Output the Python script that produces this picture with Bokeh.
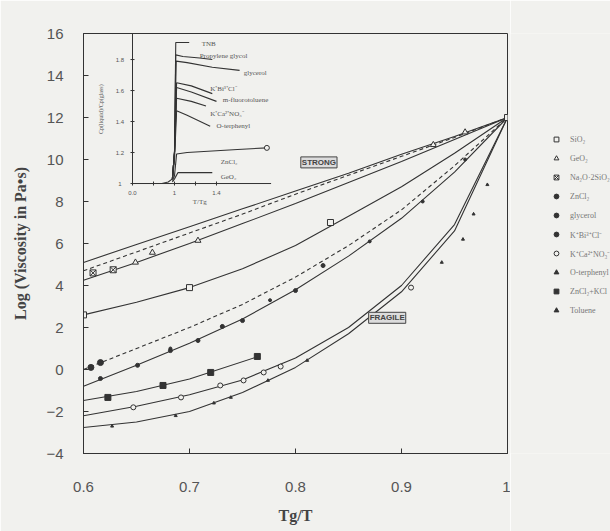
from bokeh.plotting import figure
from bokeh.models import Range1d, Label, Legend, LegendItem, FixedTicker
from bokeh.layouts import row
from bokeh.embed import file_html
from bokeh.resources import INLINE
from bokeh.core.properties import value
import math

# ---------------- main data ----------------
grid_x = [0.6, 0.65, 0.7, 0.75, 0.8, 0.85, 0.9, 0.95, 1.0]

line1_y = [5.1, 5.95, 6.8, 7.65, 8.5, 9.35, 10.25, 11.1, 12.0]      # strongest (solid)
line2_y = [4.7, 5.6, 6.5, 7.4, 8.35, 9.25, 10.15, 11.05, 12.0]      # dashed
line3_y = [4.25, 5.1, 6.0, 6.95, 7.9, 8.9, 9.9, 10.95, 12.0]        # solid
sio2_y = [2.6, 3.2, 3.9, 4.8, 5.9, 7.3, 8.7, 10.3, 12.0]            # solid
zncl2_y = [0.0, 1.0, 2.0, 3.1, 4.4, 5.9, 7.6, 9.7, 12.0]            # dashed
glyc_y = [-0.8, 0.2, 1.25, 2.4, 3.8, 5.4, 7.2, 9.4, 12.0]           # solid
kca_y = [-2.2, -1.75, -1.2, -0.5, 0.55, 2.0, 4.0, 6.9, 12.0]        # solid
ot_y = [-2.76, -2.5, -2.0, -1.1, 0.1, 1.7, 3.7, 6.6, 12.0]          # solid
zk_x = [0.6, 0.65, 0.7, 0.765]
zk_y = [-1.48, -1.05, -0.45, 0.62]

# markers
sq_x = [0.6, 0.7, 0.833, 1.0]
sq_y = [2.6, 3.9, 7.0, 12.0]
tri_x = [0.649, 0.665, 0.708, 0.93, 0.96]
tri_y = [5.1, 5.57, 6.14, 10.7, 11.3]
na_x = [0.609, 0.628]
na_y = [4.6, 4.75]
znd_x = [0.607, 0.616]
znd_y = [0.1, 0.33]
gly_x = [0.616, 0.651, 0.682, 0.708, 0.731, 0.75, 0.8, 0.826]
gly_y = [-0.43, 0.2, 0.9, 1.38, 2.05, 2.33, 3.76, 4.95]
kb_x = [0.682, 0.731, 0.776, 0.87, 0.92, 0.96]
kb_y = [1.0, 2.05, 3.3, 6.1, 8.0, 10.0]
oc_x = [0.647, 0.692, 0.729, 0.751, 0.77, 0.786, 0.909]
oc_y = [-1.8, -1.33, -0.76, -0.52, -0.14, 0.14, 3.9]
ot_mx = [0.627, 0.687, 0.723, 0.739, 0.774, 0.811, 0.938, 0.958, 0.968, 0.981]
ot_my = [-2.7, -2.2, -1.6, -1.33, -0.52, 0.43, 5.1, 6.2, 7.4, 8.8]
zks_x = [0.623, 0.675, 0.72, 0.764]
zks_y = [-1.33, -0.76, -0.14, 0.62]

legend_labels = ["SiO\u2082", "GeO\u2082", "Na\u2082O\u00b72SiO\u2082", "ZnCl\u2082", "glycerol",
                 "K\u207aBi\u00b3\u207aCl\u207b", "K\u207aCa\u00b2\u207aNO\u2083\u207b", "O-terphenyl",
                 "ZnCl\u2082+KCl", "Toluene"]

x_ticks = [0.6, 0.7, 0.8, 0.9, 1.0]
y_ticks = [-4, -2, 0, 2, 4, 6, 8, 10, 12, 14, 16]

# ---------------- inset data ----------------
ins_glass_x = [0.0, 0.7, 0.85, 0.95]
ins_glass_y = [1.0, 1.0, 1.01, 1.03]
ins_tnb_x = [0.95, 1.0, 1.03, 1.35]
ins_tnb_y = [1.03, 1.2, 1.91, 1.91]
ins_pg_x = [0.95, 1.0, 1.03, 1.2, 1.6, 1.9]
ins_pg_y = [1.03, 1.2, 1.83, 1.82, 1.81, 1.80]
ins_gly_x = [0.95, 1.0, 1.04, 1.3, 1.9, 2.55]
ins_gly_y = [1.03, 1.2, 1.79, 1.78, 1.75, 1.73]
ins_kb_x = [0.95, 1.0, 1.05, 1.4, 1.9]
ins_kb_y = [1.03, 1.2, 1.65, 1.63, 1.58]
ins_mf_x = [0.95, 1.0, 1.05, 1.4, 2.0]
ins_mf_y = [1.03, 1.2, 1.62, 1.59, 1.53]
ins_kc_x = [0.95, 1.0, 1.05, 1.4, 1.75]
ins_kc_y = [1.03, 1.2, 1.55, 1.53, 1.50]
ins_ot_x = [0.95, 1.0, 1.05, 1.3, 1.85]
ins_ot_y = [1.03, 1.15, 1.47, 1.44, 1.37]
ins_zn_x = [0.95, 1.0, 1.05, 1.3, 2.5, 3.2]
ins_zn_y = [1.02, 1.05, 1.19, 1.2, 1.22, 1.23]
ins_ge_x = [0.95, 1.0, 1.08, 1.4, 1.9]
ins_ge_y = [1.01, 1.03, 1.07, 1.07, 1.07]
ins_labels = ["TNB", "Propylene glycol", "glycerol", "K\u207aBi\u00b3\u207aCl\u207b", "m-fluorotoluene",
              "K\u207aCa\u00b2\u207aNO\u2083\u207b", "O-terphenyl", "ZnCl\u2082", "GeO\u2082"]
ins_lab_x = [1.65, 1.6, 2.65, 1.85, 2.15, 1.85, 2.0, 2.1, 2.1]
ins_lab_y = [1.9, 1.82, 1.71, 1.61, 1.54, 1.45, 1.37, 1.14, 1.04]
ins_xticks = [0.0, 0.5, 1.0, 1.5, 2.0]
ins_xtick_labels = ["0.0", "", "1", "", "1.4"]
ins_yticks = [1.0, 1.2, 1.4, 1.6, 1.8]
ins_ytick_labels = ["1", "1.2", "1.4", "1.6", "1.8"]
ins_xlim = [0.0, 3.3]
ins_ylim = [1.0, 1.97]

# ---------------- figure ----------------
BG = "#f1f1ee"
INK = "#333333"

p = figure(width=510, height=531, x_range=Range1d(0.6, 1.0), y_range=Range1d(-4, 16),
           output_backend="svg", toolbar_location=None,
           min_border_left=83, min_border_right=3, min_border_top=33, min_border_bottom=78)
p.background_fill_color = BG
p.border_fill_color = BG
p.outline_line_color = INK
p.grid.visible = False

p.xaxis.ticker = FixedTicker(ticks=x_ticks)
p.xaxis.major_label_overrides = {1.0: "1"}
p.yaxis.ticker = FixedTicker(ticks=y_ticks)
for ax in (p.xaxis[0], p.yaxis[0]):
    ax.major_tick_in = 5
    ax.major_tick_out = 0
    ax.minor_tick_line_color = None
    ax.axis_line_color = INK
    ax.major_tick_line_color = INK
    ax.major_label_text_font = "Liberation Sans"
    ax.major_label_text_font_size = "15px"
    ax.major_label_text_color = "#555555"
    ax.axis_label_text_font = "Liberation Serif"
    ax.axis_label_text_font_size = "16px"
    ax.axis_label_text_font_style = "bold"
    ax.axis_label_text_color = "#444444"
p.xaxis.axis_label = "Tg/T"
p.yaxis.axis_label = "Log (Viscosity in Pa\u2022s)"
p.xaxis.major_label_standoff = 28
p.xaxis.axis_label_standoff = 12
p.yaxis.major_label_standoff = 20
p.yaxis.axis_label_standoff = 14

def ln(xs, ys, dash="solid"):
    p.line(xs, ys, line_color=INK, line_width=1.1, line_dash=dash)

ln(grid_x, line1_y)
ln(grid_x, line2_y, "4 3")
ln(grid_x, line3_y)
ln(grid_x, sio2_y)
ln(grid_x, zncl2_y, "4 3")
ln(grid_x, glyc_y)
ln(grid_x, kca_y)
ln(grid_x, ot_y)
ln(zk_x, zk_y)

styles = [
    dict(marker="square", size=6, line_color=INK, fill_color=BG),
    dict(marker="triangle", size=6, line_color=INK, fill_color=BG),
    dict(marker="square_x", size=6, line_color=INK, fill_color=BG),
    dict(marker="circle", size=6, line_color=INK, fill_color=INK),
    dict(marker="circle", size=4, line_color=INK, fill_color=INK),
    dict(marker="circle", size=3, line_color=INK, fill_color=INK),
    dict(marker="circle", size=5, line_color=INK, fill_color=BG),
    dict(marker="triangle", size=3, line_color=INK, fill_color=INK),
    dict(marker="square", size=6, line_color=INK, fill_color=INK),
    dict(marker="triangle", size=5, line_color=INK, fill_color=INK),
]
series_pts = [(sq_x, sq_y), (tri_x, tri_y), (na_x, na_y), (znd_x, znd_y), (gly_x, gly_y),
              (kb_x, kb_y), (oc_x, oc_y), (ot_mx, ot_my), (zks_x, zks_y), ([], [])]
for (xs, ys), st in zip(series_pts, styles):
    p.scatter(xs, ys, **st)

p.add_layout(Label(x=0.805, y=9.6, text="STRONG", text_font="Liberation Sans", text_font_size="8px",
                   text_font_style="bold", text_color="#444444", border_line_color="#444444",
                   background_fill_color="#dcdcdc", padding=1))
p.add_layout(Label(x=0.869, y=2.2, text="FRAGILE", text_font="Liberation Sans", text_font_size="8px",
                   text_font_style="bold", text_color="#444444", border_line_color="#444444",
                   background_fill_color="#dcdcdc", padding=1))

# ---------------- inset (own ranges) ----------------
p.extra_x_ranges = {"ix": Range1d(-1.167, 8.93)}
p.extra_y_ranges = {"iy": Range1d(-0.742, 1.968)}
kw = dict(x_range_name="ix", y_range_name="iy")

p.line([ins_xlim[0], ins_xlim[0]], ins_ylim, line_color=INK, line_width=1, **kw)
p.line(ins_xlim, [ins_ylim[0], ins_ylim[0]], line_color=INK, line_width=1, **kw)
p.scatter([ins_xlim[0]] * len(ins_yticks), ins_yticks, marker="dash", size=4, line_color=INK, **kw)
p.scatter(ins_xticks, [ins_ylim[0]] * len(ins_xticks), marker="dash", angle=math.pi / 2, size=4,
          line_color=INK, **kw)

for xs, ys in [(ins_glass_x, ins_glass_y), (ins_tnb_x, ins_tnb_y), (ins_pg_x, ins_pg_y),
               (ins_gly_x, ins_gly_y), (ins_kb_x, ins_kb_y), (ins_mf_x, ins_mf_y),
               (ins_kc_x, ins_kc_y), (ins_ot_x, ins_ot_y), (ins_zn_x, ins_zn_y), (ins_ge_x, ins_ge_y)]:
    p.line(xs, ys, line_color=INK, line_width=1.1, **kw)
p.scatter([ins_zn_x[-1]], [ins_zn_y[-1]], marker="circle", size=5, line_color=INK, fill_color=BG, **kw)

p.text(ins_lab_x, ins_lab_y, text=ins_labels, text_font=value("Liberation Serif"),
       text_font_size="7px", text_color="#555555", text_baseline="middle", **kw)
p.text(ins_xticks, [ins_ylim[0] - 0.06] * len(ins_xticks), text=ins_xtick_labels,
       text_font=value("Liberation Sans"), text_font_size="6px", text_color="#555555",
       text_align="center", text_baseline="middle", **kw)
p.text([ins_xlim[0] - 0.3] * len(ins_yticks), ins_yticks, text=ins_ytick_labels,
       text_font=value("Liberation Sans"), text_font_size="6px", text_color="#555555",
       text_align="center", text_baseline="middle", **kw)
p.text([1.6], [ins_ylim[0] - 0.12], text=["T/Tg"], text_font=value("Liberation Serif"),
       text_font_size="7px", text_color="#555555", text_align="center", text_baseline="middle", **kw)
p.text([ins_xlim[0] - 0.75], [1.48], text=["Cp(liquid)/Cp(glass)"], angle=math.pi / 2,
       text_font=value("Liberation Serif"), text_font_size="6px", text_color="#555555",
       text_align="center", text_baseline="middle", **kw)

# ---------------- legend panel ----------------
q = figure(width=100, height=531, x_range=Range1d(0, 1), y_range=Range1d(0, 1),
           output_backend="svg", toolbar_location=None, x_axis_type=None, y_axis_type=None,
           min_border_left=0, min_border_right=0, min_border_top=0, min_border_bottom=0)
q.background_fill_color = BG
q.border_fill_color = BG
q.outline_line_color = None
q.grid.visible = False
# one hidden point (outside the visible range) per legend renderer so the legend glyph has data
leg_r = [q.scatter([-5], [-5], **st) for st in styles]
legend = Legend(items=[LegendItem(label=l, renderers=[r]) for l, r in zip(legend_labels, leg_r)],
                location=(40, 137), padding=0, margin=0, spacing=7,
                glyph_width=12, glyph_height=12, label_height=12, label_standoff=8,
                label_text_font="Liberation Serif", label_text_font_size="8px",
                label_text_color="#777777", background_fill_alpha=0, border_line_alpha=0)
q.add_layout(legend)

layout = row(p, q, spacing=0)
open("out.html", "w").write(file_html(layout, INLINE))
